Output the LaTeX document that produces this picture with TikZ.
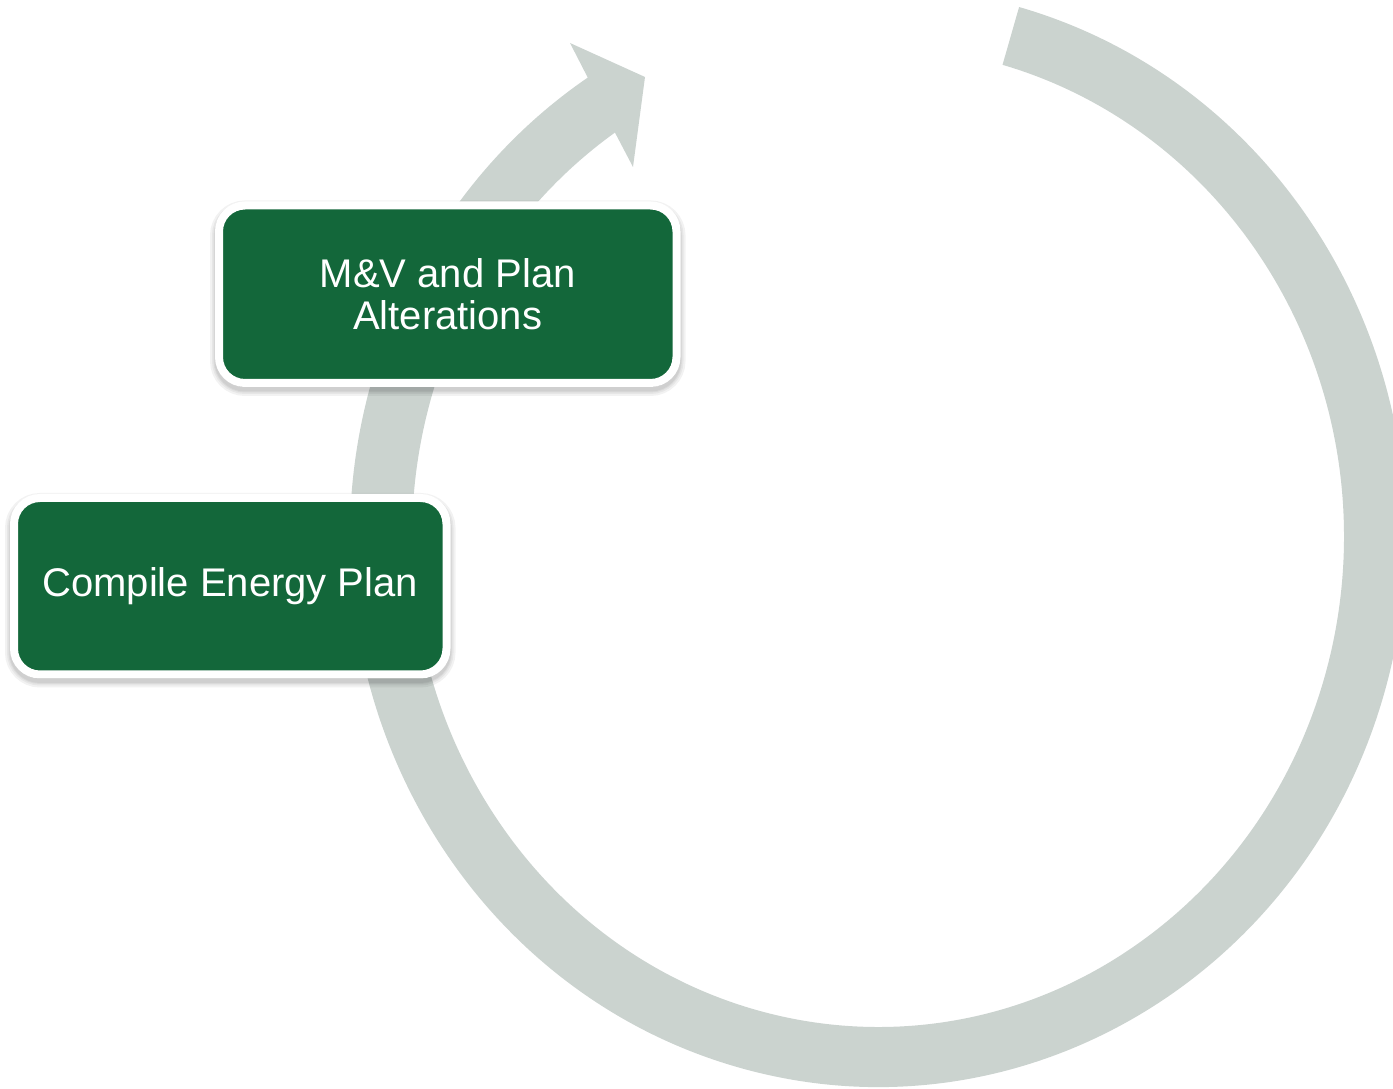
\documentclass[tikz,border=0pt]{standalone}
\usepackage{fontspec}
\setmainfont{Liberation Sans}
\usetikzlibrary{shadows}
\definecolor{arcgray}{RGB}{203,211,207}
\definecolor{boxgreen}{RGB}{19,103,58}
\tikzset{
  softshadow/.style={drop shadow={shadow xshift=0pt, shadow yshift=-2pt, fill=black, draw=black, line width=#1, opacity=0.05}},
  stepbox/.style={draw=white, line width=4pt, fill=boxgreen, rounded corners=13pt,
    text=white, font=\fontsize{20pt}{20.75pt}\selectfont, align=center,
    inner sep=0pt,
    softshadow=9pt, softshadow=7pt, softshadow=5.5pt, softshadow=4.5pt},
}
\begin{document}
\begin{tikzpicture}[x=0.5pt,y=0.5pt]
\useasboundingbox (0,0) rectangle (1393,1088);
% circular arrow
\begin{scope}[shift={(878,551)}]
\fill[arcgray] (74.5:528 and 550)
  arc[start angle=74.5, end angle=-236.65, x radius=528, y radius=550]
  -- (-308,494) -- (-233,460) -- (-245,370)
  -- (-235.63:466 and 490)
  arc[start angle=-235.63, end angle=74.5, x radius=466, y radius=490]
  -- cycle;
\end{scope}
% boxes
\node[stepbox, minimum width=228.75pt, minimum height=88.75pt] (mv) at (447.75,793.75)
  {M\&V and Plan\\Alterations};
\node[stepbox, minimum width=216.25pt, minimum height=88.25pt] (cep) at (230.25,501.75)
  {Compile Energy Plan};
\end{tikzpicture}
\end{document}
